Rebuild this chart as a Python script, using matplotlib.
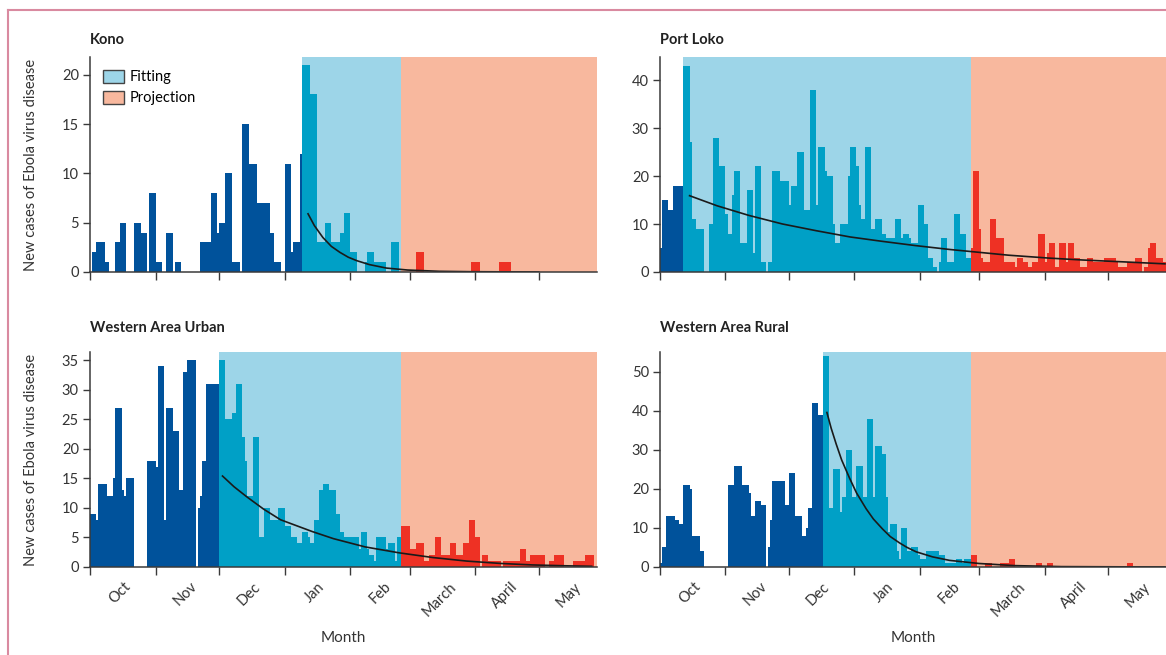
import numpy as np
import matplotlib
matplotlib.use("Agg")
import matplotlib.pyplot as plt
from matplotlib.patches import Patch
from matplotlib.lines import Line2D

plt.rcParams['font.family'] = ['Lato', 'DejaVu Sans']

# one value per day, day 0 = 1 October 2014
kono = [
    0, 2, 2, 3, 3, 3, 3, 1, 1, 0, 0, 0, 3, 3, 5, 5, 5, 0, 0, 0,
    0, 5, 5, 5, 4, 4, 4, 0, 8, 8, 8, 1, 1, 1, 0, 0, 4, 4, 4, 0,
    1, 1, 1, 0, 0, 0, 0, 0, 0, 0, 0, 0, 3, 3, 3, 3, 3, 8, 8, 8,
    4, 5, 5, 5, 10, 10, 10, 1, 1, 1, 1, 0, 15, 15, 15, 11, 11, 11, 11, 7,
    7, 7, 7, 7, 7, 4, 4, 1, 1, 1, 0, 0, 11, 11, 11, 2, 3, 3, 3, 12,
    21, 21, 21, 21, 18, 18, 18, 3, 3, 3, 3, 5, 5, 5, 3, 3, 3, 3, 4, 4,
    6, 6, 6, 2, 2, 2, 0, 0, 0, 0, 1, 2, 2, 2, 1, 1, 1, 1, 1, 1,
    0, 0, 3, 3, 3, 3, 0, 0, 0, 0, 0, 0, 0, 0, 2, 2, 2, 2, 0, 0,
    0, 0, 0, 0, 0, 0, 0, 0, 0, 0, 0, 0, 0, 0, 0, 0, 0, 0, 0, 0,
    1, 1, 1, 1, 0, 0, 0, 0, 0, 0, 0, 0, 0, 1, 1, 1, 1, 1, 1, 0,
    0, 0, 0, 0, 0, 0, 0, 0, 0, 0, 0, 0, 0, 0, 0, 0, 0, 0, 0, 0,
    0, 0, 0, 0, 0, 0, 0, 0, 0, 0, 0, 0, 0, 0, 0, 0, 0, 0, 0, 0,
]
port_loko = [
    5, 15, 15, 15, 13, 13, 18, 18, 18, 18, 18, 43, 43, 43, 27, 11, 11, 9, 9, 9,
    9, 0, 0, 10, 10, 28, 28, 28, 22, 22, 22, 12, 8, 8, 16, 21, 21, 21, 6, 6,
    6, 17, 17, 17, 4, 22, 22, 22, 2, 2, 0, 2, 2, 21, 21, 21, 21, 19, 19, 19,
    19, 14, 18, 18, 18, 25, 25, 25, 13, 13, 13, 38, 38, 38, 14, 26, 26, 26, 21, 20,
    20, 20, 10, 6, 6, 10, 10, 10, 10, 20, 26, 26, 26, 22, 14, 11, 11, 26, 26, 26,
    9, 9, 11, 11, 11, 8, 8, 7, 7, 7, 7, 11, 11, 11, 7, 8, 8, 8, 7, 6,
    6, 6, 14, 14, 14, 10, 10, 3, 3, 1, 1, 0, 2, 7, 7, 7, 2, 2, 2, 12,
    12, 12, 8, 8, 8, 3, 3, 5, 21, 21, 21, 9, 3, 2, 2, 2, 11, 11, 11, 7,
    7, 7, 7, 2, 2, 2, 2, 2, 1, 3, 3, 3, 2, 2, 1, 1, 2, 2, 2, 8,
    8, 8, 2, 4, 6, 6, 6, 1, 1, 6, 6, 6, 2, 6, 6, 6, 3, 3, 3, 1,
    1, 1, 3, 3, 3, 2, 2, 2, 2, 2, 3, 3, 3, 3, 3, 3, 2, 1, 1, 1,
    1, 2, 2, 2, 2, 3, 3, 3, 0, 1, 1, 5, 6, 6, 6, 3, 3, 3, 2, 2,
]
wa_urban = [
    9, 9, 9, 8, 14, 14, 14, 14, 12, 12, 12, 15, 27, 27, 27, 13, 12, 15, 15, 15,
    15, 0, 0, 0, 0, 0, 0, 18, 18, 18, 18, 17, 34, 34, 34, 8, 27, 27, 27, 23,
    23, 23, 13, 13, 33, 33, 35, 35, 35, 35, 0, 10, 12, 18, 18, 31, 31, 31, 31, 31,
    31, 35, 35, 35, 25, 25, 25, 26, 26, 31, 31, 31, 22, 18, 12, 12, 12, 22, 22, 22,
    5, 5, 10, 10, 10, 8, 8, 8, 8, 10, 10, 10, 7, 7, 7, 5, 5, 5, 4, 4,
    6, 6, 6, 5, 4, 4, 8, 8, 13, 13, 14, 14, 14, 13, 13, 13, 9, 9, 6, 6,
    5, 5, 5, 5, 5, 5, 5, 3, 6, 6, 6, 3, 2, 2, 1, 5, 5, 5, 5, 5,
    3, 4, 4, 4, 1, 5, 5, 7, 7, 7, 7, 3, 3, 3, 4, 4, 4, 4, 1, 1,
    2, 2, 2, 5, 5, 5, 2, 2, 2, 2, 4, 4, 4, 2, 2, 2, 4, 4, 4, 8,
    8, 8, 5, 5, 0, 2, 2, 2, 1, 1, 1, 1, 1, 1, 0, 1, 1, 1, 1, 1,
    1, 1, 1, 3, 3, 3, 1, 1, 2, 2, 2, 2, 2, 2, 2, 0, 0, 1, 1, 2,
    2, 2, 2, 2, 0, 0, 0, 0, 1, 1, 1, 1, 1, 1, 2, 2, 2, 2, 0, 0,
]
wa_rural = [
    1, 5, 5, 13, 13, 13, 13, 12, 12, 11, 11, 21, 21, 21, 20, 8, 8, 8, 8, 4,
    4, 0, 0, 0, 0, 0, 0, 0, 0, 0, 0, 0, 21, 21, 21, 26, 26, 26, 26, 21,
    21, 21, 19, 13, 13, 17, 17, 17, 16, 16, 0, 5, 12, 22, 22, 22, 22, 22, 22, 16,
    16, 24, 24, 24, 13, 13, 13, 8, 8, 10, 15, 15, 42, 42, 42, 39, 39, 54, 54, 54,
    15, 15, 25, 25, 25, 14, 18, 18, 30, 30, 30, 18, 18, 26, 26, 26, 18, 18, 38, 38,
    38, 18, 31, 31, 31, 29, 29, 18, 9, 11, 11, 11, 4, 2, 10, 10, 10, 4, 4, 5,
    5, 5, 3, 2, 2, 2, 4, 4, 4, 4, 4, 4, 3, 3, 3, 1, 1, 1, 1, 1,
    2, 2, 2, 1, 2, 2, 2, 3, 3, 3, 0, 0, 0, 0, 1, 1, 1, 0, 0, 0,
    0, 1, 1, 1, 1, 2, 2, 2, 0, 0, 0, 0, 0, 0, 0, 0, 0, 0, 1, 1,
    1, 0, 0, 1, 1, 1, 0, 0, 0, 0, 0, 0, 0, 0, 0, 0, 0, 0, 0, 0,
    0, 0, 0, 0, 0, 0, 0, 0, 0, 0, 0, 0, 0, 0, 0, 0, 0, 0, 0, 0,
    0, 1, 1, 1, 0, 0, 0, 0, 0, 0, 0, 0, 0, 0, 0, 0, 0, 0, 0, 0,
]

# fitted curves (day, cases)
kono_fit_x = [103, 106, 110, 114, 118, 122, 126, 132, 140, 150, 165, 180, 200, 212]
kono_fit_y = [5.9, 4.7, 3.5, 2.6, 2.0, 1.5, 1.15, 0.75, 0.4, 0.2, 0.07, 0.03, 0.01, 0.0]
pl_fit_x = [14, 27, 42, 58, 74, 90, 105, 121, 137, 151, 165, 184, 200, 220, 239]
pl_fit_y = [15.9, 13.8, 11.8, 10.0, 8.6, 7.3, 6.4, 5.5, 4.7, 4.1, 3.5, 2.9, 2.5, 2.1, 1.7]
wau_fit_x = [62.6, 68, 74, 82, 90, 99, 105, 115, 130, 146, 162, 178, 194, 209, 225, 237]
wau_fit_y = [15.4, 13.6, 11.9, 9.8, 8.0, 6.8, 6.0, 4.8, 3.4, 2.4, 1.6, 1.0, 0.6, 0.35, 0.2, 0.12]
war_fit_x = [79, 81, 83.4, 86, 89.7, 93, 97.6, 101, 105.4, 109, 113.3, 117, 121.2, 129, 137, 151, 168, 190, 239]
war_fit_y = [39.6, 35.6, 31.5, 27.4, 22.8, 19.0, 14.9, 12.3, 9.7, 7.8, 6.2, 5.0, 3.9, 2.6, 1.7, 0.9, 0.35, 0.1, 0.0]

fit_start = {'Kono': 100, 'Port Loko': 11, 'Western Area Urban': 61, 'Western Area Rural': 77}
proj_start = 147
x_end = 239.5

month_starts = [0, 31, 61, 92, 123, 151, 182, 212]
month_mids = [14, 45, 75, 106, 137, 165, 196, 226]
month_names = ['Oct', 'Nov', 'Dec', 'Jan', 'Feb', 'March', 'April', 'May']

DARK = '#00529b'
CYAN = '#00a0c6'
RED = '#ee3124'
FIT_BG = '#9dd5e8'
PROJ_BG = '#f8b89e'
AXC = '#3a3a3a'


def draw_panel(ax, name, cases, fx, fy, yticks, ymax, bottom, left, title_y):
    days = np.arange(len(cases))
    f0 = fit_start[name]
    cols = [DARK if d < f0 else (CYAN if d < proj_start else RED) for d in days]
    ax.axvspan(f0, proj_start, color=FIT_BG, lw=0, zorder=0)
    ax.axvspan(proj_start, x_end, color=PROJ_BG, lw=0, zorder=0)
    ax.bar(days, cases, width=1.0, align='edge', color=cols, linewidth=0, zorder=2)
    ax.plot(fx, fy, color='#1a1a1a', lw=1.2, zorder=3)

    ax.set_xlim(0, x_end)
    ax.set_ylim(0, ymax)
    ax.set_yticks(yticks)
    for s in ['top', 'right']:
        ax.spines[s].set_visible(False)
    for s in ['left', 'bottom']:
        ax.spines[s].set_color(AXC)
        ax.spines[s].set_linewidth(1.1)
        ax.spines[s].set_zorder(4)
    ax.tick_params(axis='y', direction='out', length=5, width=1, color=AXC,
                   labelsize=10.5, labelcolor='#333333', pad=3)
    ax.set_xticks(month_starts)
    ax.set_xticklabels([])
    ax.set_xticks(month_mids, minor=True)
    ax.tick_params(axis='x', which='major', direction='out', length=6, width=1, color=AXC)
    ax.tick_params(axis='x', which='minor', length=0, pad=9)
    if bottom:
        ax.set_xticklabels(month_names, minor=True, rotation=45, ha='center',
                           va='top', fontsize=10.5, color='#333333')
        ax.set_xlabel('Month', fontsize=11, color='#333333')
        ax.xaxis.set_label_coords(0.5, -0.30)
    if left:
        ax.set_ylabel('New cases of Ebola virus disease', fontsize=10.5, color='#333333')
        ax.yaxis.set_label_coords(-0.103, 0.5)
    ax.text(0.0, title_y, name, transform=ax.transAxes, fontsize=10.5,
            fontweight='bold', va='center', ha='left', color='#222222')


fig = plt.figure(figsize=(11.66, 6.55), dpi=100)
W, H = 1166, 655
ax1 = fig.add_axes([90 / W, 1 - 272 / H, 507 / W, 215 / H])
ax2 = fig.add_axes([660 / W, 1 - 272 / H, 506 / W, 215 / H])
ax3 = fig.add_axes([90 / W, 1 - 567 / H, 507 / W, 215 / H])
ax4 = fig.add_axes([660 / W, 1 - 567 / H, 506 / W, 215 / H])

draw_panel(ax1, 'Kono', kono, kono_fit_x, kono_fit_y, [0, 5, 10, 15, 20], 21.8, False, True, 1.079)
draw_panel(ax2, 'Port Loko', port_loko, pl_fit_x, pl_fit_y, [0, 10, 20, 30, 40], 44.8, False, False, 1.079)
draw_panel(ax3, 'Western Area Urban', wa_urban, wau_fit_x, wau_fit_y,
           [0, 5, 10, 15, 20, 25, 30, 35], 36.4, True, True, 1.112)
draw_panel(ax4, 'Western Area Rural', wa_rural, war_fit_x, war_fit_y,
           [0, 10, 20, 30, 40, 50], 55.1, True, False, 1.112)

handles = [Patch(facecolor=FIT_BG, edgecolor='#444444', label='Fitting'),
           Patch(facecolor=PROJ_BG, edgecolor='#444444', label='Projection')]
ax1.legend(handles=handles, loc='upper left', frameon=False, fontsize=10.5,
           handlelength=1.4, handleheight=0.95, handletextpad=0.4, labelspacing=0.45,
           borderaxespad=0.5)

# pink frame of the figure panel
pink = '#d98aa0'
fig.add_artist(Line2D([8 / W, 8 / W], [0, 1 - 10 / H], transform=fig.transFigure, color=pink, lw=1.5))
fig.add_artist(Line2D([8 / W, 1], [1 - 10 / H, 1 - 10 / H], transform=fig.transFigure, color=pink, lw=1.5))

fig.savefig('out.png', dpi=100)
